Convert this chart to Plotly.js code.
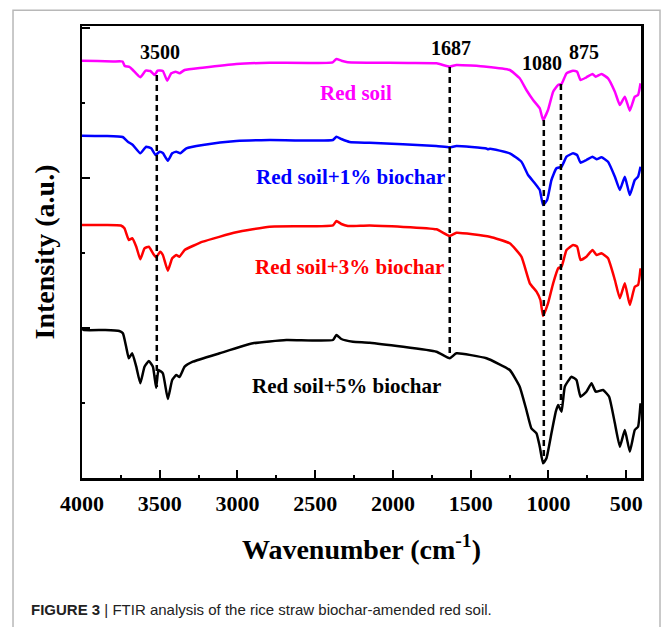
<!DOCTYPE html>
<html>
<head>
<meta charset="utf-8">
<script src="https://cdn.plot.ly/plotly-3.0.1.min.js"></script>
<style>html,body{margin:0;padding:0;background:#fff;}#chart{width:663px;height:627px;}</style>
</head>
<body>
<div id="chart"></div>
<script>
// Wavenumbers (cm-1) and offset intensities (a.u.)
const seriesNames = ["Red soil", "Red soil+1% biochar", "Red soil+3% biochar", "Red soil+5% biochar"];

const wnRedSoil = [4000,3900,3800,3739,3725,3694,3673,3625,3591,3560,3533,3514,3480,3452,3426,3398,3373,3340,3225,3008,2793,2388,2364,2332,2291,2150,1900,1719,1635,1592,1399,1249,1185,1142,1099,1056,1035,1003,970,938,916,884,842,816,794,756,717,696,659,617,573,541,509,477,445,424,408];
const intRedSoil = [417.3,417,416.5,416.5,412,411,408,400.7,407.3,407,403,407.3,407,397.3,404.7,406.3,404.7,408,410.3,414,415.3,415.7,419,417.3,415.7,415.3,415,414.7,411.3,413,411.3,408,399.7,388,378,369.7,358,368,386.3,393,394,404.7,407.3,406.3,398,400.7,404,401.3,404,399.7,386.3,373,381.3,367.3,381.3,383,394.7];

const wnBio1 = [4000,3850,3739,3705,3673,3625,3587,3555,3527,3501,3480,3448,3420,3394,3368,3329,3223,3008,2793,2386,2364,2332,2279,2150,1721,1635,1592,1400,1389,1375,1249,1174,1131,1088,1056,1035,1009,981,949,916,884,842,816,794,756,717,691,659,617,573,541,509,477,445,424,408];
const intBio1 = [342.3,342,341,336.3,333,324.7,331.3,329.7,323,326.3,325,317.3,324.7,326.3,324.7,329.7,333,337,338,338,341.3,339,336,335.2,332,330.7,332,329.5,328.7,329.3,324.7,316.3,303,294.7,288,273,278,298,309.7,311.3,321.3,324.7,323,315.3,318,321.3,318.7,320.7,316.3,301.3,288,301.3,283,298,301.3,311.3];

const wnBio3 = [4000,3850,3750,3727,3699,3677,3651,3625,3598,3570,3544,3523,3497,3480,3448,3420,3394,3373,3340,3223,3008,2793,2386,2364,2332,2290,2150,1721,1635,1592,1378,1249,1174,1120,1077,1052,1035,1003,970,938,916,884,842,816,794,756,717,691,659,617,573,541,509,477,445,424,408];
const intBio3 = [253,253,252.5,249.7,238,239.7,231.3,218.7,229.7,231.3,224.7,220.7,226.3,223,207.3,219.7,223,221.3,228,236.3,245.7,251.3,252.7,257,254,252,252.5,248.7,242,245.3,241.3,234.7,221.3,194.7,186.3,178,162,174.7,194.7,209.7,211.3,228,233,231.5,218,221.3,228,223,224.7,219.7,198,179.7,194.7,173,191.3,193,209.7];

const wnBio5 = [4000,3990,3850,3760,3737,3716,3699,3677,3651,3625,3598,3570,3544,3523,3508,3480,3448,3420,3394,3373,3340,3287,3115,2901,2686,2386,2364,2332,2257,2150,1721,1635,1592,1399,1249,1185,1142,1110,1077,1056,1035,1013,981,953,938,916,895,852,820,794,756,723,696,649,610,573,541,509,477,445,424,408];
const intBio5 = [150,148,148,147,144.7,131.3,119.7,124.7,111.3,94.7,111.3,117,111.3,90.3,108,104.7,79,98,103,101,111.3,116.3,124.7,134.7,138,138,143,139,136.3,135.3,126.3,119.7,124.7,119.7,108,91.3,68,49.7,44.7,31.3,14.7,19.7,44.7,66.3,73,66.3,91.3,101.3,98,81.3,86.3,94.7,86.3,88,81.3,54.7,31.3,48,26.3,48,51.3,74.7];

// Marked band positions (label text, line position, line from/to intensity)
const bandLabels = ["3500", "1687", "1080", "875"];
const bandLineWn = [3519, 1635, 1030, 920];
const bandLineTop = [403, 411, 358, 394];
const bandLineBottom = [91, 120, 15, 73];

const xTickVals = [4000, 3500, 3000, 2500, 2000, 1500, 1000, 500];
const xTickText = ["4000", "3500", "3000", "2500", "2000", "1500", "1000", "500"];

const colors = ["#ff00ff", "#0000ff", "#ff0000", "#000000"];
const wnSets = [wnRedSoil, wnBio1, wnBio3, wnBio5];
const intSets = [intRedSoil, intBio1, intBio3, intBio5];

const serif = "Liberation Serif";

const traces = wnSets.map((w, i) => ({
  x: w, y: intSets[i], type: "scatter", mode: "lines",
  name: seriesNames[i],
  line: {color: colors[i], width: 2.5, shape: "spline", smoothing: 0.4},
  hoverinfo: "skip", showlegend: false
}));

const shapes = bandLineWn.map((w, i) => ({
  type: "line", xref: "x", yref: "y",
  x0: w, x1: w, y0: bandLineTop[i], y1: bandLineBottom[i],
  line: {color: "#000", width: 2.5, dash: "6px,4px"}
}));
// outer grey figure frame
shapes.push({type: "rect", xref: "paper", yref: "paper",
  x0: -0.1234, x1: 1.034, y0: -0.345, y1: 1.035,
  line: {color: "#b8b8b8", width: 1.5}, layer: "below"});

const labelPos = [[3501, 426.3], [1629, 430], [1039, 415.5], [773, 426]];
const annotations = bandLabels.map((t, i) => ({
  x: labelPos[i][0], y: labelPos[i][1], xref: "x", yref: "y",
  text: "<b>" + t + "</b>", showarrow: false,
  font: {family: serif, size: 20, color: "#000"}
}));

const namePos = [[2240, 385.5], [2272, 301], [2282, 211], [2298, 92]];
seriesNames.forEach((n, i) => {
  annotations.push({
    x: namePos[i][0], y: namePos[i][1], xref: "x", yref: "y",
    text: "<b>" + n + "</b>", showarrow: false,
    font: {family: serif, size: 21, color: colors[i]}
  });
});

annotations.push({
  xref: "paper", yref: "paper", x: -0.0948, y: -0.292,
  xanchor: "left", yanchor: "middle", showarrow: false,
  text: "<b>FIGURE 3</b> | FTIR analysis of the rice straw biochar-amended red soil.",
  font: {family: "Liberation Sans", size: 15, color: "#222"}
});

const layout = {
  width: 663, height: 627,
  margin: {l: 82, r: 22, t: 26, b: 149},
  paper_bgcolor: "#fff", plot_bgcolor: "#fff",
  font: {family: serif, color: "#000"},
  showlegend: false,
  xaxis: {
    range: [4000, 405], autorange: false,
    tickmode: "array", tickvals: xTickVals, ticktext: xTickText.map(t => "<b>" + t + "</b>"),
    ticks: "inside", ticklen: 8, tickwidth: 2, tickcolor: "#000",
    minor: {dtick: 250, tick0: 0, ticks: "inside", ticklen: 3, tickwidth: 2, tickcolor: "#000"},
    showline: true, linewidth: 2.5, linecolor: "#000", mirror: true,
    showgrid: false, zeroline: false,
    tickfont: {family: serif, size: 22, color: "#000"},
    ticklabelstandoff: 4,
    title: {text: "<b>Wavenumber (cm<sup>-1</sup>)</b>", font: {family: serif, size: 28, color: "#000"}, standoff: 25}
  },
  yaxis: {
    range: [0, 452], autorange: false,
    tick0: 0, dtick: 150,
    ticks: "inside", ticklen: 8, tickwidth: 2, tickcolor: "#000",
    minor: {dtick: 75, ticks: "inside", ticklen: 3, tickwidth: 2, tickcolor: "#000"},
    showticklabels: false,
    showline: true, linewidth: 2.5, linecolor: "#000", mirror: true,
    showgrid: false, zeroline: false,
    title: {text: "<b>Intensity (a.u.)</b>", font: {family: serif, size: 28, color: "#000"}, standoff: 17}
  },
  shapes: shapes,
  annotations: annotations
};

Plotly.newPlot("chart", traces, layout, {staticPlot: true, displayModeBar: false});
</script>
</body>
</html>
